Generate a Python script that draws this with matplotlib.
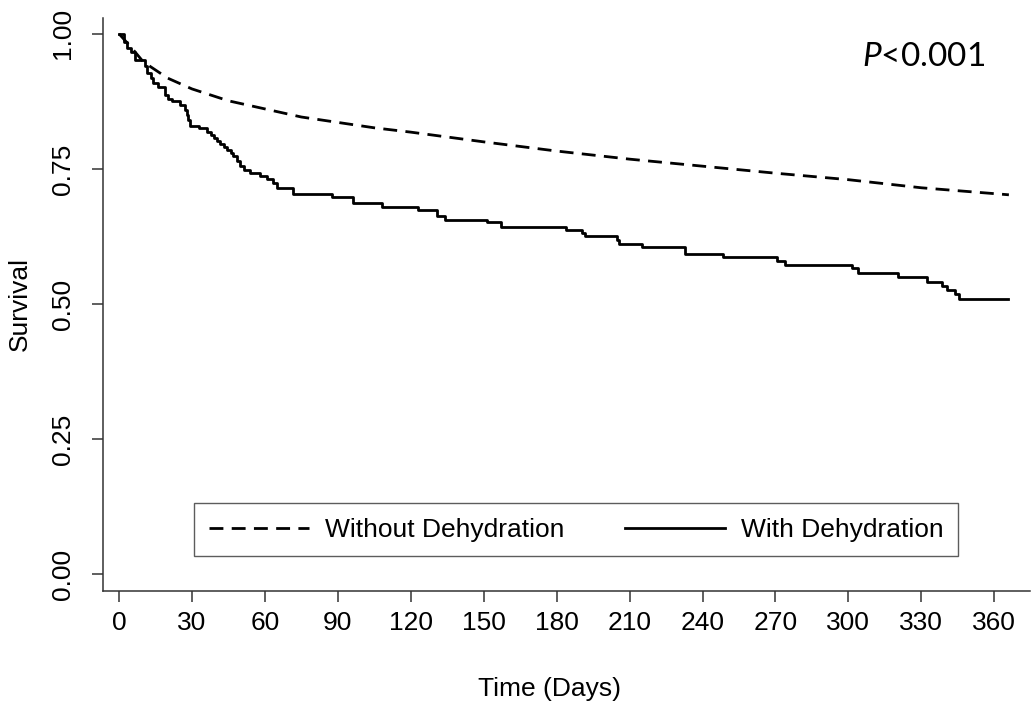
import matplotlib
matplotlib.use("Agg")
import matplotlib.pyplot as plt

# -------------------------
# Data
# -------------------------
# Without dehydration (many events -> nearly smooth curve)
t_without = [0, 5, 10, 20, 30, 45, 60, 75, 90, 105, 120, 150, 180, 210,
             240, 270, 300, 330, 366]
s_without = [1.000, 0.975, 0.948, 0.918, 0.898, 0.876, 0.861, 0.846, 0.836,
             0.826, 0.818, 0.800, 0.783, 0.768, 0.755, 0.742, 0.730, 0.715,
             0.702]

# With dehydration (step function, survival after each event)
t_with = [0, 2, 3.2, 5, 6.6, 10.5, 11.5, 13, 14, 16, 18.9, 20, 21.7, 25, 27,
          28, 28.5, 29.2, 33, 36, 38, 39, 40.5, 41.5, 43, 44.3, 46, 47, 48.5,
          49.8, 51.5, 53.9, 58, 60.8, 63.5, 64.9, 71.7, 87.5, 96.4, 108, 123,
          130.6, 134, 151.3, 157, 183.7, 190.3, 191.7, 204.9, 205.8, 215,
          232.8, 248.6, 270.5, 273.9, 301.6, 303.8, 320.5, 332.5, 338.4,
          340.4, 343.9, 345.3, 365.8]
s_with = [1.000, 0.985, 0.973, 0.967, 0.952, 0.940, 0.927, 0.918, 0.909,
          0.902, 0.887, 0.880, 0.875, 0.869, 0.859, 0.850, 0.841, 0.830,
          0.825, 0.819, 0.812, 0.807, 0.801, 0.796, 0.790, 0.785, 0.779,
          0.773, 0.764, 0.755, 0.748, 0.742, 0.736, 0.731, 0.723, 0.714,
          0.704, 0.698, 0.686, 0.680, 0.673, 0.662, 0.656, 0.651, 0.643,
          0.637, 0.631, 0.625, 0.619, 0.611, 0.605, 0.592, 0.586, 0.580,
          0.572, 0.566, 0.557, 0.549, 0.541, 0.533, 0.526, 0.519, 0.509,
          0.509]

x_ticks = list(range(0, 361, 30))
y_ticks = [0.00, 0.25, 0.50, 0.75, 1.00]

plt.rcParams["font.family"] = ["Liberation Sans", "DejaVu Sans"]
plt.rcParams["mathtext.fontset"] = "custom"
plt.rcParams["mathtext.it"] = "Lato:italic"
plt.rcParams["mathtext.rm"] = "Lato"

fs = 19

fig = plt.figure(figsize=(10.35, 7.13), dpi=100)
ax = fig.add_axes([0.0995, 0.171, 0.8957, 0.804])

ax.plot(t_without, s_without, color="black", lw=2.0,
        linestyle=(0, (5, 3)), label="Without Dehydration")
ax.plot(t_with, s_with, color="black", lw=2.0, drawstyle="steps-post",
        label="With Dehydration")

ax.set_xlim(-6.6, 374.7)
ax.set_ylim(-0.0315, 1.0296)
ax.set_xticks(x_ticks)
ax.set_yticks(y_ticks)
ax.set_yticklabels([f"{v:.2f}" for v in y_ticks], rotation=90, va="center")

for side in ["top", "right"]:
    ax.spines[side].set_visible(False)
for side in ["left", "bottom"]:
    ax.spines[side].set_color("#333333")
    ax.spines[side].set_linewidth(1.1)

ax.tick_params(axis="both", direction="out", length=8, width=1.1,
               color="#333333", labelsize=fs)
ax.tick_params(axis="x", pad=6)
ax.tick_params(axis="y", pad=12)

ax.set_ylabel("Survival", fontsize=fs)
ax.yaxis.set_label_coords(-0.077, 0.5)
ax.set_xlabel("Time (Days)", fontsize=fs)
ax.xaxis.set_label_coords(0.482, -0.150)

# P value, upper right
ax.text(305.5, 0.957, "$P$<0.001", fontsize=24, ha="left", va="center",
        family="Lato")

leg = fig.legend(loc="center", bbox_to_anchor=(0.5565, 0.2567), ncol=2,
                 fontsize=fs, frameon=True, fancybox=False,
                 handlelength=3.8, handletextpad=0.6, columnspacing=2.3,
                 borderpad=0.55, edgecolor="#333333")
leg.get_frame().set_linewidth(1.0)

fig.savefig("out.png", dpi=100)
